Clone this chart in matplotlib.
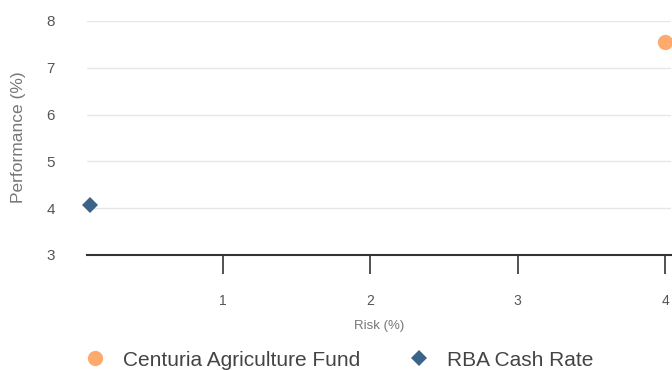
import matplotlib
matplotlib.use("Agg")
import matplotlib.pyplot as plt
from matplotlib.lines import Line2D

plt.rcParams["font.family"] = ["Liberation Sans", "DejaVu Sans"]

# data
series_names = ["Centuria Agriculture Fund", "RBA Cash Rate"]
risk = [4.0, 0.1]
performance = [7.55, 4.06]
colors = ["#FDAA6C", "#3C6489"]
markers = ["o", "D"]
marker_sizes = [11, 8]

x_ticks = [1, 2, 3, 4]
y_ticks = [3, 4, 5, 6, 7, 8]

fig = plt.figure(figsize=(6.72, 3.70), dpi=100)
ax = fig.add_axes([87 / 672, 1 - 255 / 370, 584 / 672, 234 / 370])

for name, x, y, c, m, s in zip(series_names, risk, performance, colors, markers, marker_sizes):
    ax.plot([x], [y], linestyle="none", marker=m, markersize=s, color=c,
            markeredgewidth=0, clip_on=False, zorder=3, label=name)

ax.set_xlim(0.077, 4.04)
ax.set_ylim(3, 8)
ax.set_xticks(x_ticks)
ax.set_yticks(y_ticks)
ax.set_xticklabels([str(t) for t in x_ticks])
ax.set_yticklabels([str(t) for t in y_ticks])

ax.grid(axis="y", color="#e6e6e6", linewidth=1)
ax.set_axisbelow(True)
for side in ["top", "right", "left"]:
    ax.spines[side].set_visible(False)
ax.spines["bottom"].set_color("#333333")
ax.spines["bottom"].set_linewidth(1.5)

ax.tick_params(axis="x", direction="out", length=14, width=1.2, color="#333333",
               pad=14, labelsize=10, labelcolor="#555555")
ax.tick_params(axis="y", length=0, pad=23, labelsize=11, labelcolor="#555555")

ax.set_xlabel("Risk (%)", fontsize=9.5, color="#777777", labelpad=9)
fig.text(19 / 672, 1 - 137 / 370, "Performance (%)", rotation=90, ha="center", va="center",
         fontsize=12.5, color="#777777")

handles = [Line2D([0], [0], linestyle="none", marker=m, markersize=s, color=c, markeredgewidth=0)
           for c, m, s in zip(colors, markers, marker_sizes)]
fig.legend(handles, series_names, loc="center left", bbox_to_anchor=(0.082, 0.027),
           ncol=2, frameon=False, fontsize=15, handletextpad=0.38, columnspacing=1.78,
           labelcolor="#444444")

fig.savefig("out.png", dpi=100)
